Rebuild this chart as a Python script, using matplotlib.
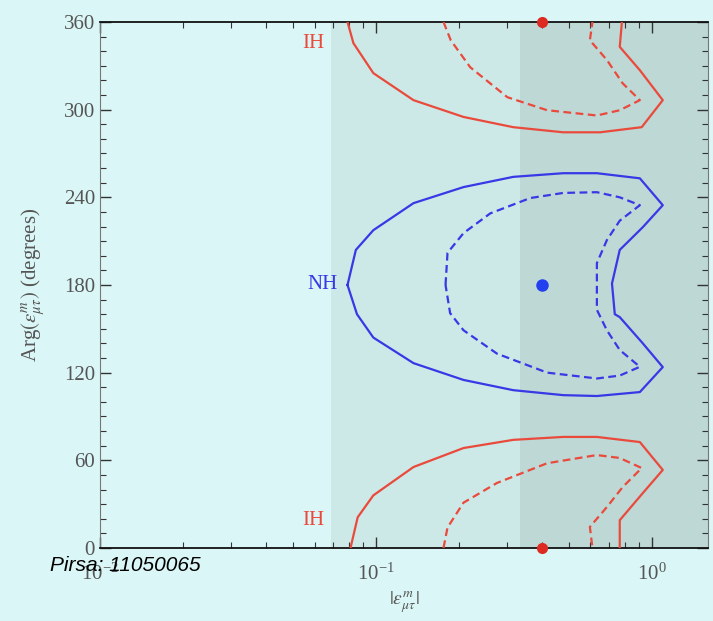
import numpy as np
import matplotlib
matplotlib.use("Agg")
import matplotlib.pyplot as plt
from matplotlib.ticker import MultipleLocator, LogLocator

plt.rcParams.update({"font.family": ["Liberation Serif", "DejaVu Serif"],
                     "mathtext.fontset": "stix"})

# |eps| and Arg(eps) in degrees, NH contours (solid = outer, dashed = inner)
nh_solid_eps = [0.079, 0.0847, 0.098, 0.137, 0.208, 0.315, 0.478, 0.633, 0.906, 1.097, 0.929, 0.766, 0.718,
                0.735, 0.766, 0.929, 1.097, 0.906, 0.633, 0.478, 0.315, 0.208, 0.137, 0.098, 0.0855, 0.079]
nh_solid_arg = [180, 204, 217.5, 236, 247, 254, 256.5, 256.5, 253, 234.6, 219.6, 204, 181,
                160, 158, 140, 123.8, 106.7, 104, 104.6, 108, 115, 126.5, 144, 160, 180]
nh_dash_eps = [0.179, 0.182, 0.208, 0.260, 0.363, 0.478, 0.633, 0.766, 0.906, 0.766, 0.688, 0.633, 0.633,
               0.633, 0.688, 0.766, 0.906, 0.766, 0.633, 0.418, 0.275, 0.208, 0.186, 0.179]
nh_dash_arg = [180, 202, 215.5, 229, 239.5, 243, 243.5, 240, 234.6, 224, 210.7, 195, 180,
               163, 149, 135.5, 124, 118, 116, 120, 133, 149, 160.7, 180]

# IH contours wrap around 0/360 degrees
ih_top_solid_eps = [0.079, 0.083, 0.098, 0.137, 0.208, 0.315, 0.478, 0.65, 0.92, 1.097, 0.906, 0.766, 0.78]
ih_top_solid_arg = [360, 345.5, 325, 306.5, 295, 288, 284.5, 284.5, 288, 306.5, 327, 343, 360]
ih_top_dash_eps = [0.176, 0.187, 0.220, 0.300, 0.418, 0.633, 0.766, 0.906, 0.785, 0.688, 0.597, 0.61]
ih_top_dash_arg = [360, 347.5, 329, 308.5, 299.6, 296, 299.6, 306.5, 318, 334, 347.5, 360]
ih_bot_solid_eps = [0.081, 0.086, 0.098, 0.137, 0.208, 0.315, 0.478, 0.633, 0.906, 1.097, 0.929, 0.766, 0.766]
ih_bot_solid_arg = [0, 21, 36, 55.4, 68.4, 74, 76, 76, 72.5, 53.4, 37.6, 19, 0]
ih_bot_dash_eps = [0.176, 0.182, 0.208, 0.275, 0.418, 0.633, 0.766, 0.92, 0.785, 0.688, 0.597, 0.61]
ih_bot_dash_arg = [0, 14, 31, 44.5, 58, 63.6, 61.6, 54.7, 41.7, 28, 14.4, 0]

# best-fit points
nh_best = (0.40, 180)
ih_best_eps = [0.40, 0.40]
ih_best_arg = [0, 360]

# shaded |eps| bands
band_light = (0.069, 0.333)
band_dark = (0.333, 1.6)

BG = "#daf6f6"
RED = "#ea4a3c"
BLUE = "#3838e6"

fig = plt.figure(figsize=(7.13, 6.21), dpi=100, facecolor=BG)
ax = fig.add_axes([0.140, 0.1176, 0.853, 0.847])
ax.set_facecolor(BG)
ax.set_xscale("log")
ax.set_xlim(0.01, 1.6)
ax.set_ylim(0, 360)

ax.axvspan(*band_light, color="#cce9e7", lw=0, zorder=0)
ax.axvspan(*band_dark, color="#bdd8d5", lw=0, zorder=0)

kw = dict(lw=1.6, zorder=3)
ax.plot(nh_solid_eps, nh_solid_arg, color=BLUE, **kw)
ax.plot(nh_dash_eps, nh_dash_arg, color=BLUE, ls=(0, (3.5, 2)), **kw)
ax.plot(ih_top_solid_eps, ih_top_solid_arg, color=RED, **kw)
ax.plot(ih_top_dash_eps, ih_top_dash_arg, color=RED, ls=(0, (3.5, 2)), **kw)
ax.plot(ih_bot_solid_eps, ih_bot_solid_arg, color=RED, **kw)
ax.plot(ih_bot_dash_eps, ih_bot_dash_arg, color=RED, ls=(0, (3.5, 2)), **kw)

ax.plot(*nh_best, "o", color="#2240f0", ms=9, mec="none", zorder=4)
ax.plot(ih_best_eps, ih_best_arg, "o", color="#dd2a22", ms=8, mec="none", zorder=4, clip_on=False)

ax.text(0.065, 345, "IH", color=RED, fontsize=15, ha="right", va="center")
ax.text(0.073, 180, "NH", color=BLUE, fontsize=15, ha="right", va="center")
ax.text(0.065, 19, "IH", color=RED, fontsize=15, ha="right", va="center")

ax.yaxis.set_major_locator(MultipleLocator(60))
ax.yaxis.set_minor_locator(MultipleLocator(10))
ax.xaxis.set_major_locator(LogLocator(base=10))
ax.xaxis.set_minor_locator(LogLocator(base=10, subs=np.arange(2, 10)))
ax.tick_params(which="both", direction="in", top=True, right=True, colors="#333333",
               labelcolor="#555555", labelsize=15)
ax.tick_params(axis="x", which="major", pad=11)
ax.tick_params(which="major", length=8, width=1)
ax.tick_params(which="minor", length=4, width=0.8)
for s in ("top", "bottom"):
    ax.spines[s].set_color("#111111")
    ax.spines[s].set_linewidth(1.3)
for s in ("left", "right"):
    ax.spines[s].set_color("#777777")
    ax.spines[s].set_linewidth(0.8)

ax.set_ylabel(r"Arg$(\epsilon^{m}_{\mu\tau})$ (degrees)", fontsize=15, color="#555555", labelpad=12)
ax.set_xlabel(r"$|\epsilon^{m}_{\mu\tau}|$", fontsize=14, color="#555555", labelpad=4)

fig.text(0.07, 0.09, "Pirsa: 11050065", fontsize=15, style="italic",
         family=["Liberation Sans", "DejaVu Sans"], color="black", va="center")

fig.savefig("out.png", dpi=100, facecolor=BG)
